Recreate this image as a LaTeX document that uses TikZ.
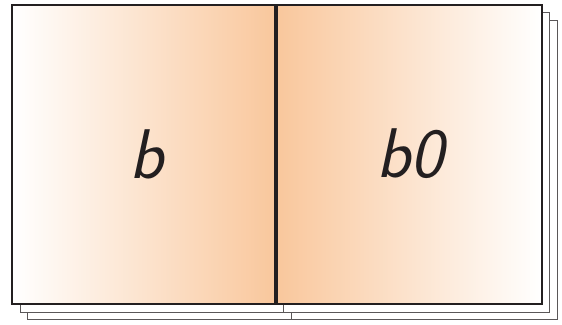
\documentclass[tikz,border=0pt]{standalone}
\usepackage{tikz}
\definecolor{peach}{RGB}{249,199,156}
\definecolor{inkline}{RGB}{35,31,32}
\begin{document}
\begin{tikzpicture}[x=0.025cm, y=-0.025cm,
    sheet/.style={draw=inkline!75, line width=0.7pt, fill=white},
    page/.style={draw=inkline, line width=1.4pt},
    num/.style={font=\fontsize{50}{50}\selectfont\sffamily\slshape, text=inkline}
]
\useasboundingbox (0,0) rectangle (562,324);
% sheets underneath
\foreach \d in {15.5,7.8} {
  \draw[sheet] (12.3+\d,4.7+\d) rectangle (276+\d,304.3+\d);
  \draw[sheet] (276+\d,4.7+\d) rectangle (541.7+\d,304.3+\d);
}
% open pages
\shade[left color=white, right color=peach] (12.3,4.7) rectangle (276,304.3);
\shade[left color=peach, right color=white] (276,4.7) rectangle (541.7,304.3);
\draw[page] (12.3,4.7) rectangle (541.7,304.3);
\draw[inkline, line width=3.2pt] (276,4.7) -- (276,304.3);
% page labels
\node[num] (leftnum) at (147,154) {b};
\node[num] (rightnum) at (410,154) {b0};
\end{tikzpicture}
\end{document}
